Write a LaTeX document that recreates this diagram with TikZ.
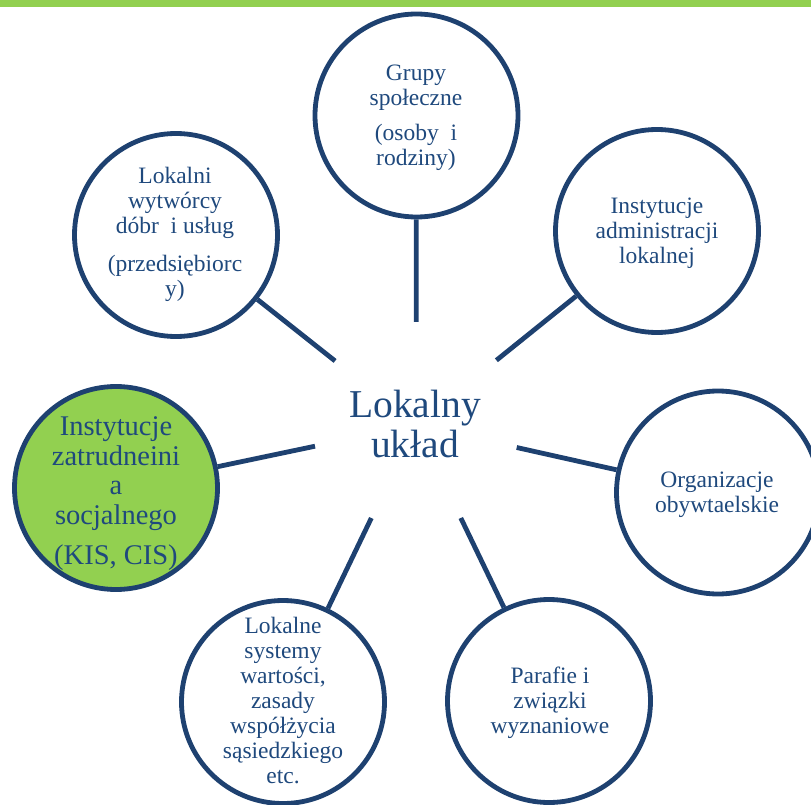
\documentclass[tikz,border=0pt]{standalone}
\usepackage{fontspec}
\setmainfont{Liberation Serif}
\definecolor{navy}{RGB}{30,65,112}
\definecolor{txtblue}{RGB}{31,73,125}
\definecolor{lgreen}{RGB}{146,208,80}
\begin{document}
\begin{tikzpicture}[x=1pt,y=-1pt,
  bubble/.style={circle,draw=navy,line width=4.8pt,minimum size=203pt,inner sep=0pt,fill=white},
  greenbubble/.style={bubble,fill=lgreen},
  spoke/.style={draw=navy,line width=4.8pt},
  txt/.style={text=txtblue,align=center,inner sep=0pt,font=\fontsize{23.5}{25}\selectfont},
  bigtxt/.style={txt,font=\fontsize{28.5}{29.5}\selectfont},
  hubtxt/.style={txt,font=\fontsize{39.5}{40}\selectfont}]
\useasboundingbox (0,0) rectangle (811,805);
\clip (0,0) rectangle (811,805);
\fill[lgreen] (0,0) rectangle (811,7.5);

\node[circle,minimum size=206pt,inner sep=0pt] (hub) at (416,425) {};
\node[hubtxt] (hubt) at (415,423.5) {Lokalny\\układ};

\node[bubble] (ctop) at (416.5,115.5) {};
\node[bubble] (ctl) at (176,235) {};
\node[bubble] (ctr) at (657,231) {};
\node[greenbubble] (cleft) at (116,488) {};
\node[bubble] (cright) at (718,492.5) {};
\node[bubble] (cbl) at (283,702) {};
\node[bubble] (cbr) at (549,701) {};

\foreach \c in {ctop,ctl,ctr,cleft,cright,cbl,cbr}
  \draw[spoke] (hub) -- (\c);

\node[txt] (ttop) at (416,117.5) {Grupy\\społeczne\\[10pt](osoby~ i\\rodziny)};
\node[txt] (ttl) at (175,234.5) {Lokalni\\wytwórcy\\dóbr~ i usług\\[13pt](przedsiębiorc\\y)};
\node[txt] (ttr) at (657,233) {Instytucje\\administracji\\lokalnej};
\node[bigtxt] (tleft) at (116,493.5) {Instytucje\\zatrudneini\\a\\socjalnego\\[10.5pt](KIS, CIS)};
\node[txt] (tright) at (717,495) {Organizacje\\obywtaelskie};
\node[txt] (tbl) at (283,700.5) {Lokalne\\systemy\\wartości,\\zasady\\współżycia\\sąsiedzkiego\\etc.};
\node[txt] (tbr) at (550,703) {Parafie i\\związki\\wyznaniowe};
\end{tikzpicture}
\end{document}
